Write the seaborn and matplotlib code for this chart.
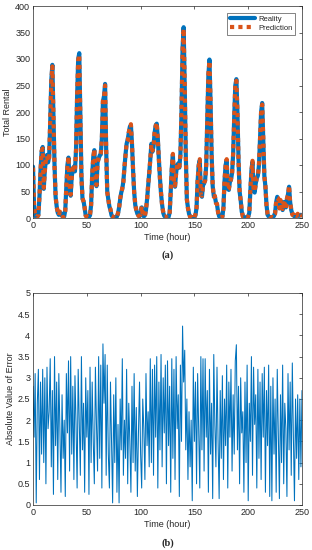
import numpy as np
import pandas as pd
import matplotlib
matplotlib.use("Agg")
import matplotlib.pyplot as plt
import seaborn as sns

# ---- data ----
hours = list(range(0, 251))

reality = [
    97, 22, 4, 2, 2, 6, 40, 90, 125, 134,
    55, 90, 110, 119, 105, 115, 180, 260, 289, 190,
    100, 40, 22, 10, 6, 10, 9, 4, 2, 3,
    15, 60, 100, 114, 65, 42, 78, 92, 97, 88,
    130, 230, 300, 311, 190, 80, 36, 32, 18, 5,
    2, 1, 2, 5, 25, 80, 115, 128, 85, 60,
    105, 112, 118, 120, 150, 220, 230, 253, 130, 50,
    35, 22, 15, 5, 2, 1, 1, 2, 3, 8,
    20, 35, 48, 55, 70, 95, 120, 140, 148, 160,
    172, 175, 140, 90, 50, 25, 15, 8, 5, 3,
    8, 20, 6, 3, 5, 15, 35, 60, 85, 110,
    140, 125, 135, 160, 175, 178, 150, 110, 75, 45,
    25, 10, 4, 2, 1, 1, 2, 10, 50, 95,
    119, 70, 59, 85, 100, 103, 95, 120, 200, 320,
    360, 250, 120, 34, 20, 8, 3, 1, 1, 2,
    2, 5, 20, 70, 100, 109, 45, 40, 62, 65,
    72, 100, 190, 270, 299, 220, 120, 60, 42, 40,
    30, 25, 12, 3, 1, 1, 2, 20, 70, 100,
    109, 55, 53, 68, 72, 85, 120, 190, 250, 262,
    200, 110, 50, 34, 12, 4, 2, 1, 1, 2,
    2, 10, 50, 90, 106, 55, 48, 65, 75, 80,
    100, 150, 200, 217, 150, 80, 59, 25, 6, 3,
    2, 1, 1, 2, 4, 10, 30, 40, 35, 20,
    32, 28, 15, 30, 25, 20, 35, 45, 59, 30,
    15, 8, 5, 3, 4, 5, 6, 4, 5, 6,
    5,
]

prediction = [
    95, 24, 6, 1, 3, 5, 42, 88, 127, 131,
    57, 88, 112, 117, 107, 113, 182, 258, 286, 192,
    98, 42, 20, 12, 5, 12, 7, 6, 1, 5,
    13, 62, 98, 116, 63, 44, 76, 94, 95, 90,
    128, 232, 298, 308, 192, 78, 38, 30, 20, 4,
    3, 2, 1, 7, 23, 82, 113, 130, 83, 62,
    103, 114, 116, 122, 148, 222, 228, 250, 132, 48,
    37, 20, 17, 4, 3, 2, 0, 3, 2, 10,
    18, 37, 46, 57, 68, 97, 118, 142, 146, 162,
    170, 177, 138, 92, 48, 27, 13, 10, 4, 5,
    6, 22, 5, 4, 3, 17, 33, 62, 83, 112,
    138, 127, 133, 162, 173, 180, 148, 112, 73, 47,
    23, 12, 3, 3, 2, 0, 3, 8, 52, 93,
    121, 68, 61, 83, 102, 101, 97, 118, 202, 317,
    357, 252, 118, 36, 18, 10, 2, 2, 0, 3,
    1, 7, 18, 72, 98, 111, 43, 42, 60, 67,
    70, 102, 188, 272, 296, 222, 118, 62, 40, 42,
    28, 27, 10, 4, 2, 0, 3, 18, 72, 98,
    111, 53, 55, 66, 74, 83, 122, 188, 252, 259,
    202, 108, 52, 32, 14, 3, 3, 0, 2, 1,
    3, 8, 52, 88, 108, 53, 50, 63, 77, 78,
    102, 148, 202, 214, 152, 78, 61, 23, 8, 2,
    3, 0, 2, 1, 6, 8, 32, 38, 37, 18,
    34, 26, 17, 28, 27, 18, 37, 43, 61, 28,
    17, 6, 7, 2, 5, 4, 8, 3, 6, 5,
    6,
]

abs_error = [
    2.8, 1.6, 3.1, 0.05, 2.4, 3.2, 0.6, 2.9, 1.2, 3.2,
    1.0, 3.0, 0.5, 3.25, 1.8, 2.2, 3.45, 0.9, 2.7, 0.25,
    3.5, 1.4, 2.9, 0.6, 3.1, 1.8, 0.3, 2.6, 1.1, 2.0,
    0.2, 3.1, 1.7, 3.4, 0.8, 3.5, 1.2, 2.8, 0.6, 3.05,
    1.9, 0.4, 3.2, 2.0, 0.7, 3.5, 1.3, 2.4, 0.3, 3.0,
    1.6, 2.7, 0.25, 3.25, 1.0, 2.9, 1.5, 0.5, 3.25, 1.9,
    0.8, 3.5, 1.1, 3.3, 0.4, 3.8, 2.4, 3.55, 0.7, 3.3,
    1.2, 0.4, 2.9, 1.5, 0.05, 2.6, 1.0, 3.0, 0.3, 1.9,
    0.05, 2.5, 1.3, 3.45, 0.7, 2.0, 1.1, 3.2, 0.5, 2.4,
    1.5, 0.3, 2.8, 1.0, 3.1, 0.8, 2.3, 0.2, 1.7, 2.9,
    1.2, 0.4, 2.5, 1.8, 0.6, 3.1, 1.4, 2.2, 0.9, 3.45,
    1.0, 3.2, 0.7, 3.3, 1.6, 3.5, 0.4, 2.9, 1.3, 3.55,
    0.9, 3.0, 1.7, 3.3, 0.5, 3.4, 1.4, 2.8, 0.3, 3.45,
    1.1, 3.2, 0.6, 3.5, 1.8, 2.6, 0.2, 3.3, 1.5, 4.22,
    2.9, 3.65, 1.3, 2.5, 0.6, 2.2, 0.9, 2.0, 0.1, 3.25,
    1.5, 2.9, 0.5, 3.1, 1.8, 0.4, 3.5, 1.3, 3.45, 0.8,
    3.45, 1.6, 2.7, 0.3, 3.2, 1.2, 2.4, 0.15, 3.55, 1.9,
    0.9, 3.25, 1.5, 0.15, 2.7, 1.1, 3.05, 0.6, 2.5, 1.4,
    3.3, 0.4, 2.9, 1.6, 3.2, 0.8, 2.6, 1.2, 3.4, 3.78,
    1.3, 2.8, 0.5, 3.0, 1.7, 2.2, 0.3, 2.9, 1.0, 3.3,
    0.1, 2.4, 1.5, 3.5, 0.7, 3.25, 1.9, 2.6, 0.4, 3.2,
    1.1, 2.9, 0.6, 3.1, 1.6, 3.25, 0.3, 2.7, 1.4, 3.3,
    0.2, 2.8, 0.1, 3.0, 1.2, 2.5, 0.3, 3.2, 1.7, 0.15,
    2.6, 1.0, 3.3, 0.5, 2.4, 1.8, 0.2, 3.1, 1.3, 2.9,
    0.7, 3.35, 1.6, 0.1, 2.5, 1.1, 2.6, 0.6, 2.5, 0.9,
    2.7,
]

x_ticks = [0, 50, 100, 150, 200, 250]
y1_ticks = [0, 50, 100, 150, 200, 250, 300, 350, 400]
y2_ticks = [0, 0.5, 1, 1.5, 2, 2.5, 3, 3.5, 4, 4.5, 5]
y2_labels = ["0", "0.5", "1", "1.5", "2", "2.5", "3", "3.5", "4", "4.5", "5"]

BLUE = "#0072BD"
ORANGE = "#D95319"

sns.set_style("white")
plt.rcParams["font.family"] = ["Liberation Sans", "DejaVu Sans"]

df = pd.DataFrame({"hour": hours, "Reality": reality, "Prediction": prediction, "err": abs_error})

fig = plt.figure(figsize=(3.12, 5.5), dpi=100)
W, H = 312.0, 550.0
ax1 = fig.add_axes([33 / W, 1 - 218 / H, 269 / W, 212 / H])
ax2 = fig.add_axes([33 / W, 1 - 505 / H, 269 / W, 212 / H])

sns.lineplot(data=df, x="hour", y="Reality", ax=ax1, color=BLUE, linewidth=3.0,
             label="Reality", estimator=None, sort=False)
sns.lineplot(data=df, x="hour", y="Prediction", ax=ax1, color=ORANGE, linewidth=3.0,
             label="Prediction", estimator=None, sort=False,
             linestyle=(0, (1, 1)), dash_capstyle="butt")

sns.lineplot(data=df, x="hour", y="err", ax=ax2, color=BLUE, linewidth=0.75,
             estimator=None, sort=False, legend=False)

for ax in (ax1, ax2):
    ax.set_xlim(0, 250)
    ax.set_xticks(x_ticks)
    ax.set_xlabel("Time (hour)", fontsize=6.5, color="#262626", labelpad=2)
    ax.tick_params(direction="in", top=True, right=True, length=2.5, width=0.5,
                   labelsize=6.5, colors="#262626", pad=2)
    for s in ax.spines.values():
        s.set_linewidth(0.5)
        s.set_color("#262626")

ax1.set_ylim(0, 400)
ax1.set_yticks(y1_ticks)
ax1.set_ylabel("Total Rental", fontsize=6.5, color="#262626", labelpad=2)

ax2.set_ylim(0, 5)
ax2.set_yticks(y2_ticks)
ax2.set_yticklabels(y2_labels)
ax2.set_ylabel("Absolute Value of Error", fontsize=6.5, color="#262626", labelpad=2)

leg = ax1.legend(loc="upper right", fontsize=5.5, handlelength=3.3, handletextpad=0.4,
                 borderpad=0.35, labelspacing=0.25, frameon=True, fancybox=False,
                 borderaxespad=0.9)
leg.get_frame().set_edgecolor("#262626")
leg.get_frame().set_linewidth(0.5)

fig.text(167.5 / W, 1 - 255 / H, "(a)", ha="center", va="center", fontsize=7.5,
         fontweight="bold", family=["Liberation Serif", "DejaVu Serif"])
fig.text(167.5 / W, 1 - 543 / H, "(b)", ha="center", va="center", fontsize=7.5,
         fontweight="bold", family=["Liberation Serif", "DejaVu Serif"])

fig.savefig("out.png", dpi=100)
